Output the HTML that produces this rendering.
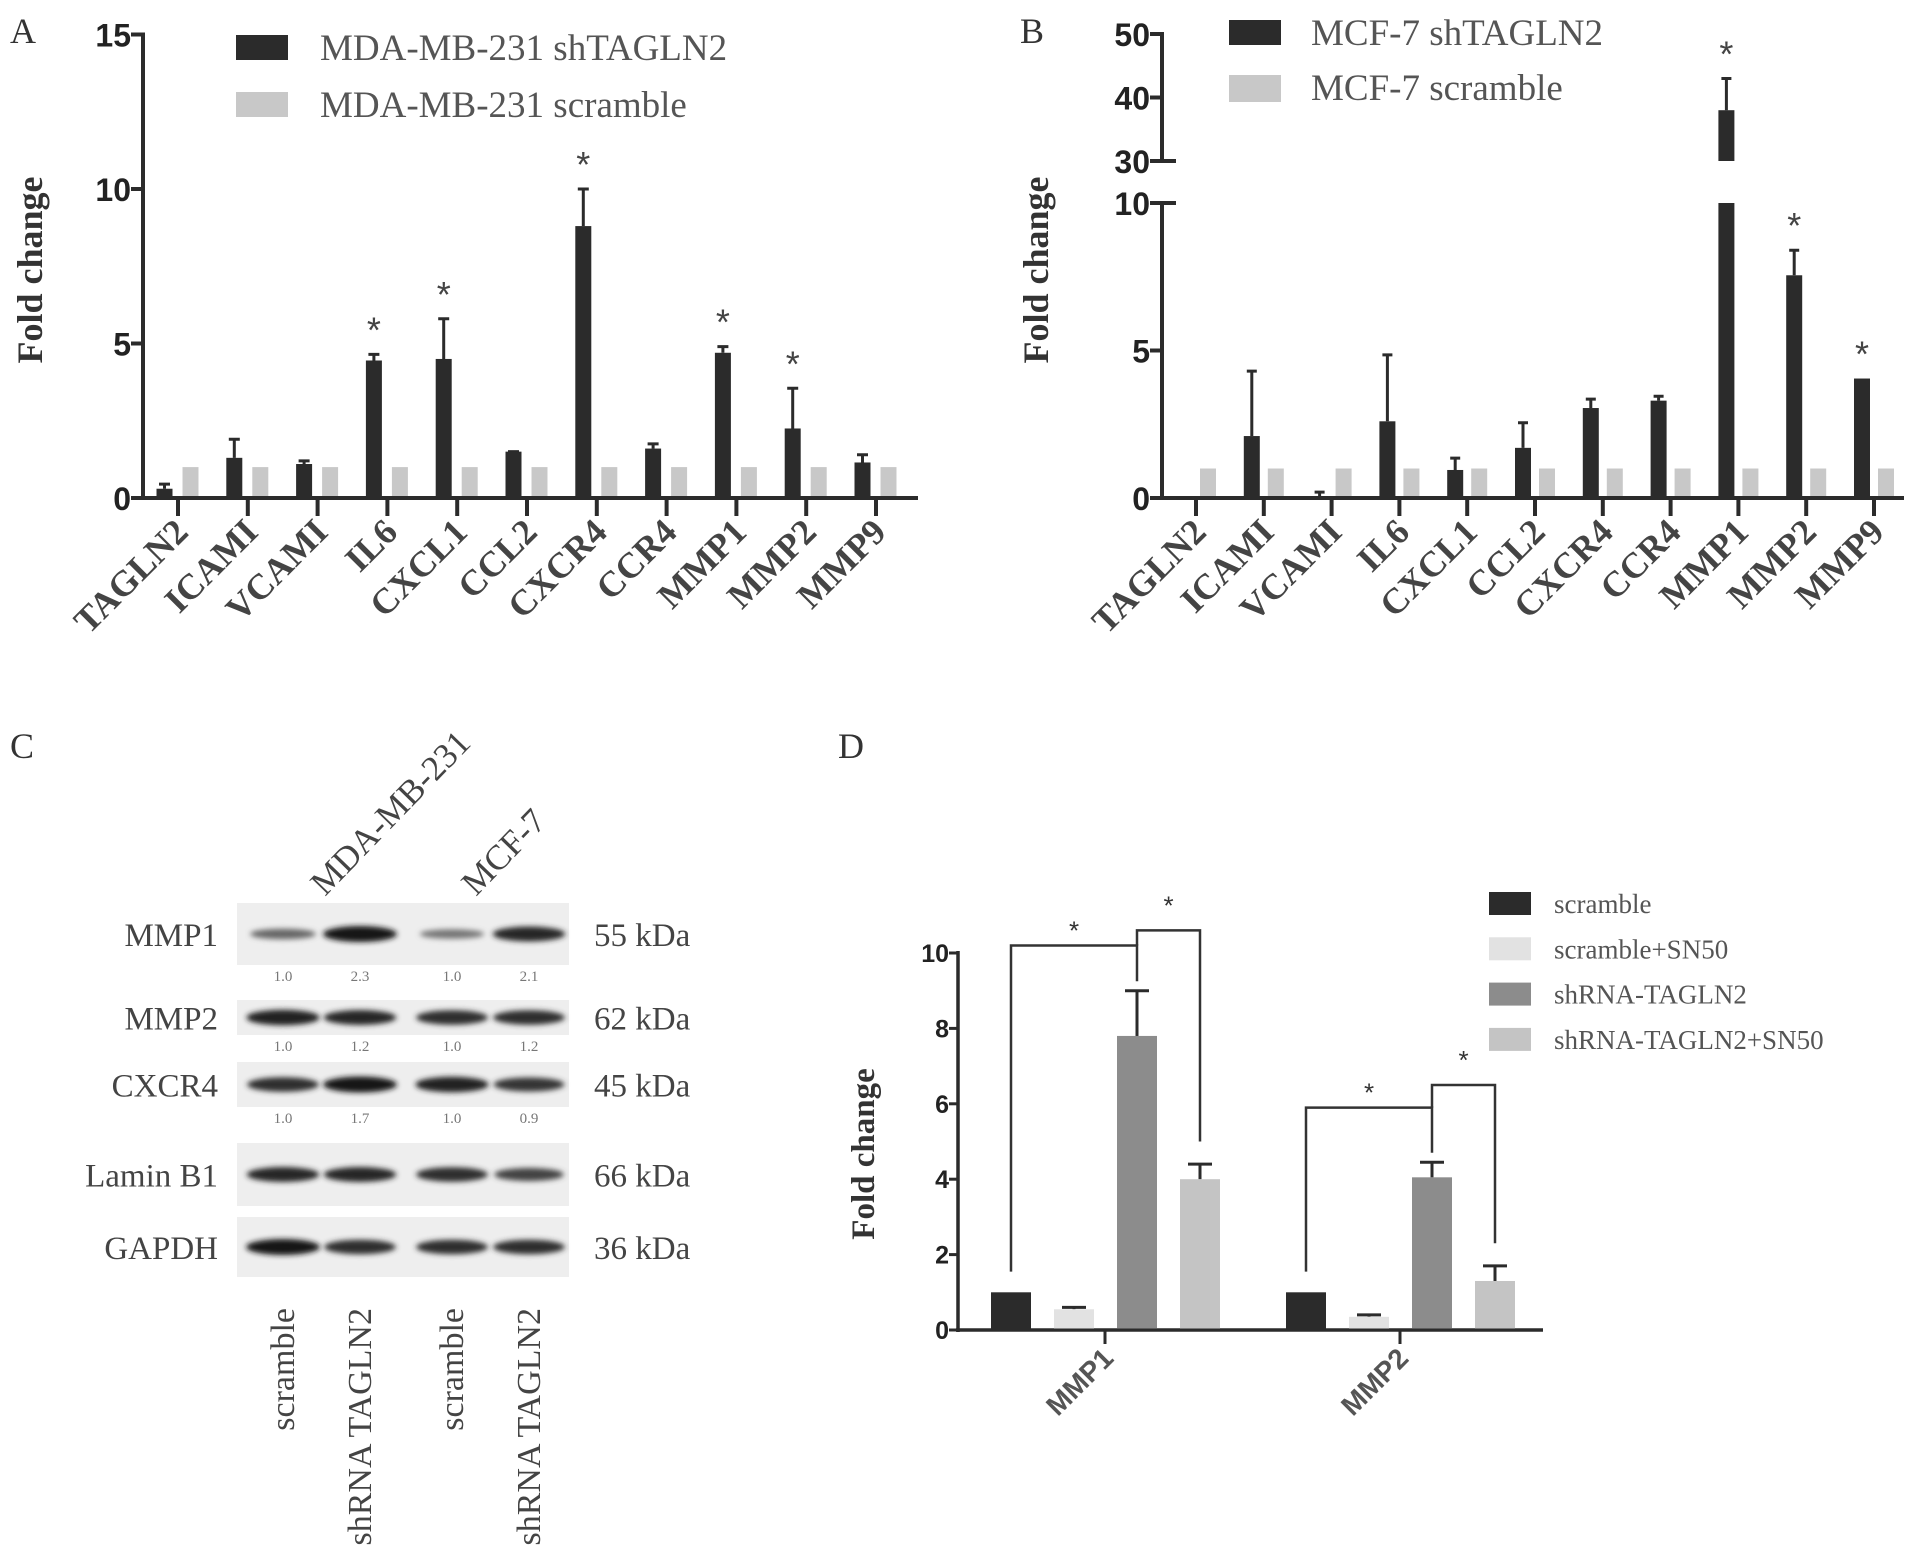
<!DOCTYPE html>
<html><head><meta charset="utf-8">
<style>
html,body{margin:0;padding:0;background:#fff;}
svg{display:block;}
.serif{font-family:"Liberation Serif",serif;}
.sans{font-family:"Liberation Sans",sans-serif;}
</style></head>
<body>
<svg id="fig" xmlns="http://www.w3.org/2000/svg" width="1913" height="1553" viewBox="0 0 1913 1553">
<defs>
<filter id="blur" x="-30%" y="-150%" width="160%" height="400%"><feGaussianBlur stdDeviation="2.6"/></filter>
</defs>
<g id="panelA"></g>
<g id="panelB"></g>
<g id="panelC"></g>
<g id="panelD"></g>
</svg>
<script>
// ---- Panel A data ----
const catsA = ["TAGLN2","ICAMI","VCAMI","IL6","CXCL1","CCL2","CXCR4","CCR4","MMP1","MMP2","MMP9"];
const shA = [0.3,1.3,1.1,4.45,4.5,1.5,8.8,1.6,4.7,2.25,1.15];
const shErrA = [0.45,1.9,1.2,4.65,5.8,1.5,10.0,1.75,4.9,3.55,1.4];
const scrA = [1,1,1,1,1,1,1,1,1,1,1];
const starA = [0,0,0,1,1,0,1,0,1,1,0];
const ticksA = [0,5,10,15];
// ---- Panel B data ----
const catsB = ["TAGLN2","ICAMI","VCAMI","IL6","CXCL1","CCL2","CXCR4","CCR4","MMP1","MMP2","MMP9"];
const shB = [0.02,2.1,0.05,2.6,0.95,1.7,3.05,3.3,38,7.55,4.05];
const shErrB = [0.02,4.3,0.2,4.85,1.35,2.55,3.35,3.45,43,8.4,4.05];
const scrB = [1,1,1,1,1,1,1,1,1,1,1];
const starB = [0,0,0,0,0,0,0,0,1,1,1];
const ticksBLow = [0,5,10];
const ticksBHigh = [30,40,50];
// ---- Panel D data ----
const catsD = ["MMP1","MMP2"];
const seriesD = ["scramble","scramble+SN50","shRNA-TAGLN2","shRNA-TAGLN2+SN50"];
const valsD = [[1,0.55,7.8,4.0],[1,0.35,4.05,1.3]];
const errD = [[1,0.6,9.0,4.4],[1,0.4,4.45,1.7]];
const ticksD = [0,2,4,6,8,10];
// ---- Panel C blot data ----
const blotRows = ["MMP1","MMP2","CXCR4","Lamin B1","GAPDH"];
const blotKda = ["55 kDa","62 kDa","45 kDa","66 kDa","36 kDa"];
const blotQuant = [["1.0","2.3","1.0","2.1"],["1.0","1.2","1.0","1.2"],["1.0","1.7","1.0","0.9"],null,null];
const blotIntensity = [[0.45,1.0,0.35,0.9],[0.95,0.9,0.85,0.85],[0.85,1.0,0.95,0.8],[0.9,0.9,0.85,0.7],[1.0,0.85,0.85,0.85]];

const NS="http://www.w3.org/2000/svg";
function mk(tag, attrs, parent){const e=document.createElementNS(NS,tag);for(const k in attrs)e.setAttribute(k,attrs[k]);parent.appendChild(e);return e;}
function tx(str, attrs, parent){const e=mk("text",attrs,parent);e.textContent=str;return e;}

const DARK="#2b2b2b", LIGHT="#c8c8c8";

// ================= Panel A =================
(function(){
  const g=document.getElementById("panelA");
  const x0=143, y0=498, unit=30.9, x1=918, x0c=178, step=69.8;
  const y=v=>y0-v*unit, xc=i=>x0c+i*step;
  let el;
  el=tx("A",{x:10,y:43,"font-size":36,fill:"#333",class:"serif"},g);
  
  
  el=mk("line",{x1:x0,y1:y(15)-2,x2:x0,y2:y0+2,stroke:DARK,"stroke-width":4},g);
  
  
  el=mk("line",{x1:x0-2,y1:y0,x2:x1,y2:y0,stroke:DARK,"stroke-width":4},g);
  
  
  ticksA.forEach(t=>{
    let e=mk("line",{x1:x0-12,y1:y(t),x2:x0,y2:y(t),stroke:DARK,"stroke-width":4},g);
    
    
    e=tx(String(t),{x:x0-12,y:y(t)+12,"text-anchor":"end","font-size":32,"font-weight":"bold",fill:"#222",class:"sans"},g);
    
    
  });
  el=tx("Fold change",{x:0,y:0,transform:"translate(42,270) rotate(-90)","text-anchor":"middle","font-size":36,"font-weight":"bold",fill:"#333",class:"serif"},g);
  
  
  catsA.forEach((c,i)=>{
    const cx=xc(i);
    let e=mk("line",{x1:cx,y1:y0,x2:cx,y2:y0+18,stroke:DARK,"stroke-width":4},g);
    
    
    e=mk("path",{d:`M${cx-13.5},${y(shA[i])}V${y(shErrA[i])}M${cx-19},${y(shErrA[i])}H${cx-8}`,stroke:DARK,"stroke-width":3,fill:"none"},g);
    
    
    e=mk("rect",{x:cx-21.5,y:y(shA[i]),width:16,height:y0-y(shA[i]),fill:DARK},g);
    
    
    e=mk("rect",{x:cx+4.5,y:y(scrA[i]),width:16,height:y0-y(scrA[i])-2,fill:LIGHT},g);
    
    
    if(starA[i]){
      e=tx("*",{x:cx-13.5,y:y(shErrA[i])-12,"text-anchor":"middle","font-size":36,fill:"#444",class:"sans"},g);
      
      
    }
    e=tx(c,{x:0,y:0,transform:`translate(${cx+12},${y0+36}) rotate(-45)`,"text-anchor":"end","font-size":36,"font-weight":"bold",fill:"#444",class:"serif"},g);
    
    
  });
  el=mk("rect",{x:236,y:35,width:52,height:25,fill:DARK},g);
  
  
  el=tx("MDA-MB-231 shTAGLN2",{x:320,y:60,"font-size":37,fill:"#555",class:"serif"},g);
  
  
  el=mk("rect",{x:236,y:92,width:52,height:25,fill:LIGHT},g);
  
  
  el=tx("MDA-MB-231 scramble",{x:320,y:117,"font-size":37,fill:"#555",class:"serif"},g);
  
  
})();

// ================= Panel B =================
(function(){
  const g=document.getElementById("panelB");
  const x0=1162, y0=498, x1=1904, x0c=1196, step=67.8;
  const yLow=v=>y0-v*29.5, yHigh=v=>161-(v-30)*6.35;
  const y=v=>v<=10?yLow(v):yHigh(v);
  const xc=i=>x0c+i*step;
  let el;
  el=tx("B",{x:1020,y:43,"font-size":36,fill:"#333",class:"serif"},g);
  
  
  el=mk("line",{x1:x0,y1:yLow(10)-2,x2:x0,y2:y0+2,stroke:DARK,"stroke-width":4},g);
  
  
  el=mk("line",{x1:x0,y1:yHigh(50)-2,x2:x0,y2:yHigh(30)+2,stroke:DARK,"stroke-width":4},g);
  
  
  el=mk("line",{x1:x0-2,y1:y0,x2:x1,y2:y0,stroke:DARK,"stroke-width":4},g);
  
  
  ticksBLow.concat(ticksBHigh).forEach(t=>{
    const long=(t===10||t===30);
    let e=mk("line",{x1:x0-12,y1:y(t),x2:long?x0+14:x0,y2:y(t),stroke:DARK,"stroke-width":4},g);
    
    
    e=tx(String(t),{x:x0-12,y:y(t)+12,"text-anchor":"end","font-size":32,"font-weight":"bold",fill:"#222",class:"sans"},g);
    
    
  });
  el=tx("Fold change",{x:0,y:0,transform:"translate(1048,270) rotate(-90)","text-anchor":"middle","font-size":36,"font-weight":"bold",fill:"#333",class:"serif"},g);
  
  
  catsB.forEach((c,i)=>{
    const cx=xc(i);
    let e=mk("line",{x1:cx,y1:y0,x2:cx,y2:y0+18,stroke:DARK,"stroke-width":4},g);
    
    
    const bx=cx-20, v=shB[i];
    if(shErrB[i]>v){
      e=mk("path",{d:`M${cx-12},${y(v)}V${y(shErrB[i])}M${cx-17},${y(shErrB[i])}H${cx-7}`,stroke:DARK,"stroke-width":3,fill:"none"},g);
      
      
    }
    if(v>10){
      e=mk("rect",{x:bx,y:yLow(10),width:16,height:y0-yLow(10),fill:DARK},g);
      
      
      e=mk("rect",{x:bx,y:yHigh(v),width:16,height:yHigh(30)-yHigh(v),fill:DARK},g);
      
      
    } else {
      e=mk("rect",{x:bx,y:yLow(v),width:16,height:Math.max(1,y0-yLow(v)),fill:DARK},g);
      
      
    }
    e=mk("rect",{x:cx+4,y:yLow(scrB[i]),width:16,height:y0-yLow(scrB[i])-2,fill:LIGHT},g);
    
    
    if(starB[i]){
      e=tx("*",{x:cx-12,y:y(shErrB[i])-12,"text-anchor":"middle","font-size":36,fill:"#444",class:"sans"},g);
      
      
    }
    e=tx(c,{x:0,y:0,transform:`translate(${cx+12},${y0+36}) rotate(-45)`,"text-anchor":"end","font-size":36,"font-weight":"bold",fill:"#444",class:"serif"},g);
    
    
  });
  el=mk("rect",{x:1229,y:20,width:52,height:25,fill:DARK},g);
  
  
  el=tx("MCF-7 shTAGLN2",{x:1311,y:45,"font-size":37,fill:"#555",class:"serif"},g);
  
  
  el=mk("rect",{x:1229,y:75,width:52,height:27,fill:LIGHT},g);
  
  
  el=tx("MCF-7 scramble",{x:1311,y:100,"font-size":37,fill:"#555",class:"serif"},g);
  
  
})();

// ================= Panel C =================
(function(){
  const g=document.getElementById("panelC");
  const rowBox=[[903,965],[1000,1035],[1062,1107],[1143,1206],[1217,1277]];
  const lanes=[283,360,452,529];
  let el;
  el=tx("C",{x:10,y:758,"font-size":36,fill:"#333",class:"serif"},g);
  
  
  blotRows.forEach((r,ri)=>{
    const [t,b]=rowBox[ri], cy=(t+b)/2;
    let e=mk("rect",{x:237,y:t,width:332,height:b-t,fill:"#eeeeee"},g);
    
    
    lanes.forEach((lx,li)=>{
      const k=blotIntensity[ri][li];
      const gv=Math.round(25+(1-k)*140);
      e=mk("ellipse",{cx:lx,cy:cy,rx:37*(0.8+0.2*k),ry:3+5*k,fill:`rgb(${gv},${gv},${gv})`,filter:"url(#blur)"},g);
      
      
    });
    e=tx(r,{x:218,y:cy+12,"text-anchor":"end","font-size":33,fill:"#444",class:"serif"},g);
    
    
    e=tx(blotKda[ri],{x:594,y:cy+12,"font-size":33,fill:"#444",class:"serif"},g);
    
    
    if(blotQuant[ri]){
      blotQuant[ri].forEach((q,li)=>{
        const qe=tx(q,{x:lanes[li],y:b+16,"text-anchor":"middle","font-size":15,fill:"#777",class:"serif"},g);
        
        
      });
    }
  });
  el=tx("MDA-MB-231",{x:0,y:0,transform:"translate(325,897) rotate(-46)","font-size":35,fill:"#444",class:"serif"},g);
  
  
  el=tx("MCF-7",{x:0,y:0,transform:"translate(476,897) rotate(-46)","font-size":35,fill:"#444",class:"serif"},g);
  
  
  const laneLabels=["scramble","shRNA TAGLN2","scramble","shRNA TAGLN2"];
  laneLabels.forEach((l,li)=>{
    const e=tx(l,{x:0,y:0,transform:`translate(${lanes[li]+11},1308) rotate(-90)`,"text-anchor":"end","font-size":34,fill:"#444",class:"serif"},g);
    
    
  });
})();

// ================= Panel D =================
(function(){
  const g=document.getElementById("panelD");
  const x0=958, y0=1330, unit=37.7, x1=1543;
  const y=v=>y0-v*unit;
  const ticks=[1105,1400];
  const offs=[-94,-31,32,95];
  const cols=["#2b2b2b","#e2e2e2","#8c8c8c","#c4c4c4"];
  let el;
  el=tx("D",{x:838,y:758,"font-size":36,fill:"#333",class:"serif"},g);
  
  
  el=mk("line",{x1:x0,y1:y(10)-2,x2:x0,y2:y0+2,stroke:DARK,"stroke-width":3.5},g);
  
  
  el=mk("line",{x1:x0-2,y1:y0,x2:x1,y2:y0,stroke:DARK,"stroke-width":3.5},g);
  
  
  ticksD.forEach(t=>{
    let e=mk("line",{x1:x0-9,y1:y(t),x2:x0,y2:y(t),stroke:DARK,"stroke-width":3},g);
    
    
    e=tx(String(t),{x:x0-9,y:y(t)+9,"text-anchor":"end","font-size":25,"font-weight":"bold",fill:"#222",class:"sans"},g);
    
    
  });
  el=tx("Fold change",{x:0,y:0,transform:"translate(874,1154) rotate(-90)","text-anchor":"middle","font-size":33,"font-weight":"bold",fill:"#333",class:"serif"},g);
  
  
  catsD.forEach((c,ci)=>{
    const tcx=ticks[ci];
    let e=mk("line",{x1:tcx,y1:y0,x2:tcx,y2:y0+14,stroke:DARK,"stroke-width":3},g);
    
    
    seriesD.forEach((s,si)=>{
      const bx=tcx+offs[si], v=valsD[ci][si], er=errD[ci][si];
      if(er>v){
        e=mk("path",{d:`M${bx},${y(v)}V${y(er)}M${bx-12},${y(er)}H${bx+12}`,stroke:DARK,"stroke-width":3,fill:"none"},g);
        
        
      }
      e=mk("rect",{x:bx-20,y:y(v),width:40,height:y0-y(v)-1.5,fill:cols[si]},g);
      
      
    });
    const xA=tcx+offs[0], xC=tcx+offs[2], xDd=tcx+offs[3];
    const hL=ci===0?10.2:5.9, hR=ci===0?10.6:6.5;
    e=mk("path",{d:`M${xA},${y(errD[ci][0]+0.55)}V${y(hL)}H${xC}V${y(errD[ci][2]+0.25)}`,stroke:"#333","stroke-width":2.5,fill:"none"},g);
    
    
    e=mk("path",{d:`M${xC},${y(hL)}V${y(hR)}H${xDd}V${y(errD[ci][3]+0.6)}`,stroke:"#333","stroke-width":2.5,fill:"none"},g);
    
    
    e=tx("*",{x:(xA+xC)/2,y:y(hL)-6,"text-anchor":"middle","font-size":26,fill:"#333",class:"sans"},g);
    
    
    e=tx("*",{x:(xC+xDd)/2,y:y(hR)-16,"text-anchor":"middle","font-size":26,fill:"#333",class:"sans"},g);
    
    
    e=tx(c,{x:0,y:0,transform:`translate(${tcx+10},${y0+30}) rotate(-45)`,"text-anchor":"end","font-size":28,"font-weight":"bold",fill:"#555",class:"sans"},g);
    
    
  });
  seriesD.forEach((s,si)=>{
    const ly=892+si*45.3;
    let e=mk("rect",{x:1489,y:ly,width:42,height:23,fill:cols[si]},g);
    
    
    e=tx(s,{x:1554,y:ly+21,"font-size":27,fill:"#555",class:"serif"},g);
    
    
  });
})();
</script>
</body></html>
